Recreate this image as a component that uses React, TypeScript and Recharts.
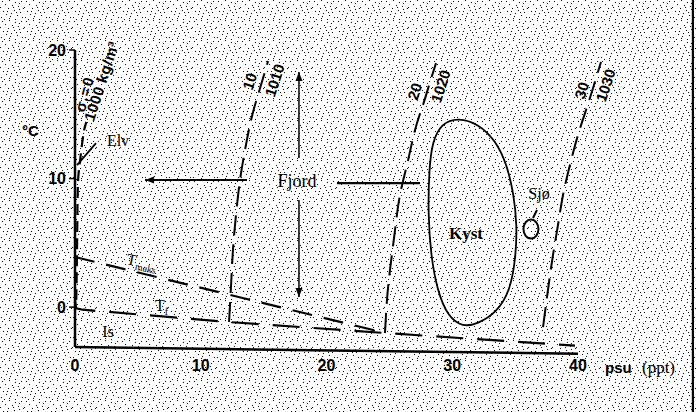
import React from 'react';
import { ComposedChart, Line, Scatter, XAxis, YAxis, ReferenceLine } from 'recharts';

// ---------- data (salinity psu = x, temperature °C = y) ----------
const xTicks = [0, 10, 20, 30, 40];
const yTicks = [0, 10, 20];

const sigma0Line = [
  { x: 0.1, y: 0.55 }, { x: 0.16, y: 4.44 }, { x: 0.22, y: 9.1 },
  { x: 0.36, y: 11.05 }, { x: 0.66, y: 13.39 }, { x: 0.9, y: 14.4 },
];
const sigma10Line = [
  { x: 12.25, y: -1.16 }, { x: 12.41, y: 1.7 }, { x: 12.56, y: 4.44 }, { x: 12.8, y: 7.16 },
  { x: 13.12, y: 9.88 }, { x: 13.52, y: 12.22 }, { x: 14.0, y: 14.55 }, { x: 14.55, y: 16.5 },
  { x: 15.03, y: 18.06 }, { x: 15.35, y: 19.14 },
];
const sigma20Line = [
  { x: 24.65, y: -2.01 }, { x: 24.81, y: 0.55 }, { x: 25.05, y: 2.89 }, { x: 25.45, y: 6.0 },
  { x: 25.84, y: 8.72 }, { x: 26.4, y: 11.06 }, { x: 27.04, y: 13.77 }, { x: 27.67, y: 15.72 },
  { x: 28.23, y: 17.5 }, { x: 28.71, y: 18.98 },
];
const sigma30Line = [
  { x: 37.22, y: -1.55 }, { x: 37.61, y: 1.33 }, { x: 38.01, y: 4.05 }, { x: 38.41, y: 6.39 },
  { x: 38.81, y: 8.72 }, { x: 39.36, y: 11.06 }, { x: 40.0, y: 13.39 }, { x: 40.72, y: 15.57 },
  { x: 41.27, y: 17.28 }, { x: 41.83, y: 19.07 },
];
const tMaxLine = [{ x: 0, y: 3.9 }, { x: 24.65, y: -2.0 }];
const tFreezeLine = [
  { x: 0, y: 0.5 }, { x: 0.1, y: -0.1 }, { x: 0.6, y: -0.2 },
  { x: 12.25, y: -1.16 }, { x: 24.65, y: -2.01 }, { x: 39.76, y: -3.0 },
];
const kystOutline = [
  { x: 30.46, y: 14.75 }, { x: 32.1, y: 14.25 }, { x: 33.45, y: 12.95 }, { x: 34.35, y: 11.1 },
  { x: 34.9, y: 8.72 }, { x: 35.15, y: 6.39 }, { x: 35.05, y: 3.82 }, { x: 34.6, y: 1.25 },
  { x: 33.5, y: -0.45 }, { x: 32.0, y: -1.3 }, { x: 30.86, y: -1.55 }, { x: 29.65, y: -0.75 },
  { x: 28.8, y: 1.33 }, { x: 28.3, y: 4.05 }, { x: 28.08, y: 7.16 }, { x: 28.15, y: 10.66 },
  { x: 28.42, y: 12.9 }, { x: 29.15, y: 14.3 },
];
const fjordLeft = [{ x: 13.68, y: 9.88 }, { x: 5.57, y: 9.88 }];
const fjordRight = [{ x: 20.83, y: 9.65 }, { x: 27.44, y: 9.65 }];
const fjordUp = [{ x: 17.81, y: 11.6 }, { x: 17.81, y: 18.28 }];
const fjordDown = [{ x: 17.81, y: 8.33 }, { x: 17.81, y: 0.79 }];
const elvPointer = [{ x: 0.16, y: 11.05 }, { x: 1.67, y: 12.76 }];
const sjoPointer = [{ x: 36.42, y: 6.93 }, { x: 36.74, y: 7.55 }];
const sjoPoint = [{ x: 36.26, y: 6.07 }];
const arrowHeads = [
  { x: 5.57, y: 9.88, dir: 180 },
  { x: 17.81, y: 18.28, dir: -90 },
  { x: 17.81, y: 0.79, dir: 90 },
];

type Part = { t: string; sub?: boolean };
const annotations: { id: string; x: number; y: number; parts: Part[] }[] = [
  { id: 'sig0', x: 0.7, y: 16.6, parts: [{ t: 'σ' }, { t: 't', sub: true }, { t: '=0' }] },
  { id: 'rho0', x: 2.05, y: 17.6, parts: [{ t: '1000 kg/m³' }] },
  { id: 'sig10', x: 13.84, y: 17.58, parts: [{ t: '10' }] },
  { id: 'rho10', x: 15.83, y: 17.66, parts: [{ t: '1010' }] },
  { id: 'sig20', x: 26.96, y: 16.8, parts: [{ t: '20' }] },
  { id: 'rho20', x: 29.03, y: 17.2, parts: [{ t: '1020' }] },
  { id: 'sig30', x: 40.24, y: 16.88, parts: [{ t: '30' }] },
  { id: 'rho30', x: 42.15, y: 17.27, parts: [{ t: '1030' }] },
  { id: 'elv', x: 3.42, y: 13.0, parts: [{ t: 'Elv' }] },
  { id: 'fjord', x: 17.65, y: 9.8, parts: [{ t: 'Fjord' }] },
  { id: 'kyst', x: 31.09, y: 5.76, parts: [{ t: 'Kyst' }] },
  { id: 'sjo', x: 36.9, y: 8.87, parts: [{ t: 'Sjø' }] },
  { id: 'is', x: 2.62, y: -1.87, parts: [{ t: 'Is' }] },
  { id: 'tmaks', x: 4.14, y: 3.82, parts: [{ t: 'T' }, { t: 'maks', sub: true }] },
  { id: 'tf', x: 6.36, y: 0.16, parts: [{ t: 'T' }, { t: 'f', sub: true }] },
];

// ---------- styles ----------
const SANS = '"Liberation Sans", Arial, sans-serif';
const SERIF = '"Liberation Serif", "Times New Roman", serif';
const labelStyle: Record<string, { font: string; size: number; weight?: string; angle?: number; anchor?: string; spacing?: number }> = {
  sig0: { font: SANS, size: 15, weight: 'bold', angle: -74, spacing: 1.5 },
  rho0: { font: SANS, size: 15, weight: 'bold', angle: -72, spacing: 0.5 },
  sig10: { font: SANS, size: 15, weight: 'bold', angle: -72 },
  rho10: { font: SANS, size: 15, weight: 'bold', angle: -72 },
  sig20: { font: SANS, size: 15, weight: 'bold', angle: -72 },
  rho20: { font: SANS, size: 15, weight: 'bold', angle: -72 },
  sig30: { font: SANS, size: 15, weight: 'bold', angle: -72 },
  rho30: { font: SANS, size: 15, weight: 'bold', angle: -72 },
  elv: { font: SERIF, size: 16 },
  fjord: { font: SERIF, size: 18 },
  kyst: { font: SERIF, size: 17, weight: 'bold' },
  sjo: { font: SERIF, size: 16 },
  is: { font: SERIF, size: 16 },
  tmaks: { font: SERIF, size: 16, angle: 12, anchor: 'start' },
  tf: { font: SERIF, size: 16, anchor: 'start' },
};

const dotPositions = [
  [2, 1], [9, 0], [15, 2], [21, 1], [5, 4], [12, 5], [18, 6], [0, 7], [8, 8], [23, 8],
  [3, 11], [14, 10], [20, 12], [6, 14], [11, 13], [17, 15], [1, 17], [9, 18], [22, 17],
  [15, 19], [19, 3], [7, 11], [13, 7], [10, 16], [19, 9], [4, 19], [16, 12],
];

const AnnotationShape = (props: any) => {
  const { cx, cy, payload } = props;
  const st = labelStyle[payload.id];
  let inSub = false;
  return (
    <text
      x={cx}
      y={cy}
      textAnchor={st.anchor || 'middle'}
      dominantBaseline="central"
      transform={st.angle ? `rotate(${st.angle} ${cx} ${cy})` : undefined}
      fontFamily={st.font}
      fontSize={st.size}
      fontWeight={st.weight || 'normal'}
      letterSpacing={st.spacing}
      fill="#000"
    >
      {payload.parts.map((p: Part, i: number) => {
        let dy: number | undefined;
        if (p.sub && !inSub) dy = st.size * 0.35;
        if (!p.sub && inSub) dy = -st.size * 0.35;
        inSub = !!p.sub;
        return (
          <tspan key={i} dy={dy} fontSize={p.sub ? st.size * 0.62 : st.size}>
            {p.t}
          </tspan>
        );
      })}
    </text>
  );
};

const ArrowHeadShape = (props: any) => {
  const { cx, cy, payload } = props;
  return (
    <path
      d="M0,0 L-9,-3.5 L-9,3.5 Z"
      fill="#000"
      transform={`translate(${cx},${cy}) rotate(${payload.dir})`}
    />
  );
};

const EllipseShape = (props: any) => (
  <ellipse cx={props.cx} cy={props.cy} rx={7.5} ry={9.5} fill="none" stroke="#000" strokeWidth={2} />
);

const XTick = (props: any) => {
  const { x, y, payload } = props;
  return (
    <g>
      <text x={x} y={y + 10} textAnchor="middle" dominantBaseline="central" fontFamily={SANS} fontSize={16} fontWeight="bold" fill="#000">
        {payload.value}
      </text>
      {payload.value === 40 && (
        <>
          <text x={x + 27} y={y + 12} dominantBaseline="central" fontFamily={SANS} fontSize={15} fontWeight="bold" fill="#000">psu</text>
          <text x={x + 64} y={y + 12} dominantBaseline="central" fontFamily={SERIF} fontSize={17} fill="#000">(ppt)</text>
        </>
      )}
    </g>
  );
};

const dashed = (dash: string, w = 2) => ({ stroke: '#000', strokeWidth: w, strokeDasharray: dash });

export default function App() {
  const lineCommon = { dot: false, activeDot: false, isAnimationActive: false, dataKey: 'y', legendType: 'none' as const };
  return (
    <div style={{ position: 'absolute', left: 0, top: 0, width: 696, height: 412 }}>
      <svg width={696} height={412} style={{ position: 'absolute', left: 0, top: 0 }}>
        <defs>
          <pattern id="stipple" width="24" height="20" patternUnits="userSpaceOnUse">
            {dotPositions.map(([px, py], i) => (
              <rect key={i} x={px} y={py} width={1} height={1} fill="#000" />
            ))}
          </pattern>
        </defs>
        <rect width={696} height={412} fill="#fff" />
        <rect width={696} height={412} fill="url(#stipple)" />
        <rect x={691.8} y={0} width={2.2} height={412} fill="#000" />
      </svg>
      <div style={{ position: 'absolute', left: 0, top: 0 }}>
        <ComposedChart width={696} height={412} margin={{ top: 0, right: 2, bottom: 35, left: 15 }}>
          <XAxis
            type="number"
            dataKey="x"
            domain={[0, 49.225]}
            ticks={xTicks}
            interval={0}
            axisLine={false}
            tickLine={false}
            tick={<XTick />}
            height={30}
          />
          <YAxis
            type="number"
            dataKey="y"
            domain={[-3.1, 23.889]}
            ticks={yTicks}
            interval={0}
            axisLine={false}
            tickLine={{ stroke: '#000', strokeWidth: 1.5 }}
            tickSize={6}
            tickMargin={3}
            width={60}
            tick={{ fill: '#000', fontSize: 16, fontWeight: 'bold', fontFamily: SANS }}
            label={{
              content: (p: any) => (
                <text x={p.viewBox.x + 7} y={p.viewBox.y + 130} dominantBaseline="central" fontFamily={SANS} fontSize={15} fontWeight="bold" fill="#000">
                  °C
                </text>
              ),
            }}
          />
          <ReferenceLine segment={[{ x: 0, y: -3.1 }, { x: 0, y: 20 }]} stroke="#000" strokeWidth={2.5} ifOverflow="visible" />
          <ReferenceLine segment={[{ x: 0, y: -3.1 }, { x: 40, y: -3.62 }]} stroke="#000" strokeWidth={2.5} ifOverflow="visible" />

          <Line {...lineCommon} data={sigma0Line} type="natural" {...dashed('11 6', 2.2)} />
          <Line {...lineCommon} data={sigma10Line} type="natural" {...dashed('20 9')} />
          <Line {...lineCommon} data={sigma20Line} type="natural" {...dashed('20 9')} />
          <Line {...lineCommon} data={sigma30Line} type="natural" {...dashed('20 9')} />
          <Line {...lineCommon} data={tMaxLine} type="linear" {...dashed('20 12', 2.2)} />
          <Line {...lineCommon} data={tFreezeLine} type="linear" {...dashed('27 14', 2.2)} />
          <Line {...lineCommon} data={kystOutline} type="basisClosed" stroke="#000" strokeWidth={1.8} />
          <Line {...lineCommon} data={fjordLeft} type="linear" stroke="#000" strokeWidth={2} />
          <Line {...lineCommon} data={fjordRight} type="linear" stroke="#000" strokeWidth={2.2} />
          <Line {...lineCommon} data={fjordUp} type="linear" stroke="#000" strokeWidth={1.5} />
          <Line {...lineCommon} data={fjordDown} type="linear" stroke="#000" strokeWidth={1.5} />
          <Line {...lineCommon} data={elvPointer} type="linear" stroke="#000" strokeWidth={1.8} />
          <Line {...lineCommon} data={sjoPointer} type="linear" stroke="#000" strokeWidth={2} />

          <Scatter data={sjoPoint} dataKey="y" isAnimationActive={false} shape={EllipseShape} />
          <Scatter data={arrowHeads} dataKey="y" isAnimationActive={false} shape={ArrowHeadShape} />
          <Scatter data={annotations} dataKey="y" isAnimationActive={false} shape={AnnotationShape} />
        </ComposedChart>
      </div>
    </div>
  );
}
